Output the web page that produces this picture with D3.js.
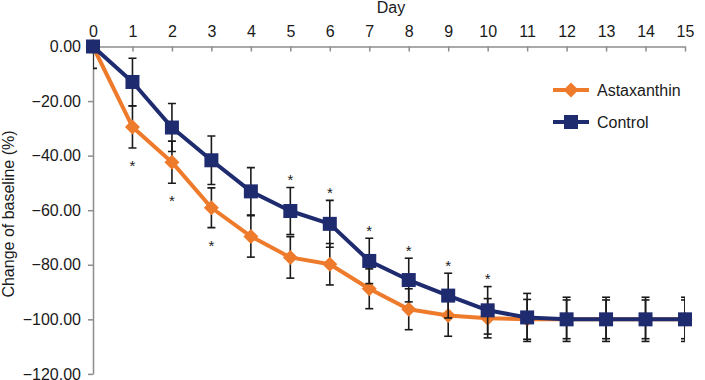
<!DOCTYPE html>
<html>
<head>
<meta charset="utf-8">
<script src="https://cdn.jsdelivr.net/npm/d3@7"></script>
<style>
  html, body { margin: 0; padding: 0; background: #fff; }
  svg { display: block; font-family: "Liberation Sans", Arial, sans-serif; }
</style>
</head>
<body>
<svg id="chart" width="705" height="380"></svg>
<script>
const days = [0, 1, 2, 3, 4, 5, 6, 7, 8, 9, 10, 11, 12, 13, 14, 15];
const astaxanthin = [0, -29.5, -42.4, -59.1, -69.6, -77.3, -79.8, -88.8, -96.3, -98.6, -99.6, -100, -100, -100, -100, -100];
const astaxanthinErr = [8.0, 7.7, 7.7, 7.3, 7.6, 7.6, 7.6, 7.3, 7.5, 7.6, 7.2, 7.3, 7.1, 7.1, 7.1, 7.1];
const control = [0, -13.0, -29.7, -41.7, -53.1, -60.3, -65.0, -78.6, -85.6, -91.3, -96.7, -99.3, -100, -100, -100, -100];
const controlErr = [0, 8.7, 8.8, 8.9, 8.7, 8.6, 8.6, 8.3, 8.0, 8.2, 8.7, 8.8, 8.1, 8.1, 8.1, 8.1];
const sigBelow = [1, 2, 3];            // asterisk under Astaxanthin bars
const sigAbove = [5, 6, 7, 8, 9, 10];  // asterisk over Control bars
const yTicks = [0, -20, -40, -60, -80, -100, -120];
const seriesNames = ["Astaxanthin", "Control"];
const xTitle = "Day";
const yTitle = "Change of baseline (%)";

const orange = "#EE7B2C";
const navy = "#1F2B6F";
const axisGrey = "#8c8c8c";

const svg = d3.select("#chart");
const x = d3.scaleLinear().domain([0, 15]).range([93, 685]);
const y = d3.scaleLinear().domain([-120, 0]).range([373.9, 46.5]);

// Axes
const xAxis = d3.axisTop(x).tickValues(days).tickFormat(d3.format("d"))
  .tickSizeInner(-5).tickSizeOuter(0).tickPadding(10);
const gx = svg.append("g").attr("transform", `translate(0,${y(0)})`).call(xAxis);
const yAxis = d3.axisLeft(y).tickValues(yTicks).tickFormat(d3.format(".2f"))
  .tickSizeInner(5).tickSizeOuter(0).tickPadding(7);
const gy = svg.append("g").attr("transform", `translate(${x(0)},0)`).call(yAxis);
[gx, gy].forEach(g => {
  g.select(".domain").attr("stroke", axisGrey).attr("stroke-width", 1.5);
  g.selectAll(".tick line").attr("stroke", axisGrey).attr("stroke-width", 1.5);
  g.selectAll(".tick text").attr("fill", "#1a1a1a").attr("font-size", 16)
    .attr("font-family", "Liberation Sans, Arial, sans-serif");
});

svg.append("text").attr("x", 391).attr("y", 13).attr("text-anchor", "middle")
  .attr("font-size", 16).attr("fill", "#1a1a1a").text(xTitle);
svg.append("text").attr("transform", `translate(14,214) rotate(-90)`)
  .attr("text-anchor", "middle").attr("font-size", 16).attr("fill", "#1a1a1a").text(yTitle);

// Clip for error bars (plot area)
svg.append("clipPath").attr("id", "plotclip").append("rect")
  .attr("x", x(0)).attr("y", y(0)).attr("width", x(15) - x(0)).attr("height", y(-120) - y(0));

function drawErr(vals, errs) {
  const g = svg.append("g").attr("clip-path", "url(#plotclip)")
    .attr("stroke", "#1a1a1a").attr("stroke-width", 1.6).attr("fill", "none");
  days.forEach((d, i) => {
    if (!errs[i]) return;
    const cx = x(d), y1 = y(vals[i] + errs[i]), y2 = y(vals[i] - errs[i]);
    g.append("line").attr("x1", cx).attr("x2", cx).attr("y1", y1).attr("y2", y2);
    g.append("line").attr("x1", cx - 4).attr("x2", cx + 4).attr("y1", y1).attr("y2", y1);
    g.append("line").attr("x1", cx - 4).attr("x2", cx + 4).attr("y1", y2).attr("y2", y2);
  });
}

const line = d3.line().x((d, i) => x(days[i])).y(d => y(d));
const diamond = (cx, cy, r) => `M${cx},${cy - r}L${cx + r},${cy}L${cx},${cy + r}L${cx - r},${cy}Z`;
const sq = 14;

// Astaxanthin
drawErr(astaxanthin, astaxanthinErr);
svg.append("path").datum(astaxanthin).attr("d", line)
  .attr("fill", "none").attr("stroke", orange).attr("stroke-width", 4).attr("stroke-linejoin", "round");
svg.append("g").selectAll("path").data(astaxanthin).join("path")
  .attr("d", (d, i) => diamond(x(days[i]), y(d), 7.5)).attr("fill", orange);

// Control
drawErr(control, controlErr);
svg.append("path").datum(control).attr("d", line)
  .attr("fill", "none").attr("stroke", navy).attr("stroke-width", 4).attr("stroke-linejoin", "round");
svg.append("g").selectAll("rect").data(control).join("rect")
  .attr("x", (d, i) => x(days[i]) - sq / 2).attr("y", d => y(d) - sq / 2)
  .attr("width", sq).attr("height", sq).attr("fill", navy);

// Significance asterisks
sigBelow.forEach(d => {
  svg.append("text").attr("x", x(d)).attr("y", y(astaxanthin[d] - astaxanthinErr[d]) + 14 + 9)
    .attr("text-anchor", "middle").attr("font-size", 15).attr("fill", "#1a1a1a").text("*");
});
sigAbove.forEach(d => {
  svg.append("text").attr("x", x(d)).attr("y", y(control[d] + controlErr[d]) - 11.5 + 9)
    .attr("text-anchor", "middle").attr("font-size", 15).attr("fill", "#1a1a1a").text("*");
});

// Legend
const legend = svg.append("g");
const legY = [90, 122];
legend.append("line").attr("x1", 553).attr("x2", 589).attr("y1", legY[0]).attr("y2", legY[0])
  .attr("stroke", orange).attr("stroke-width", 4);
legend.append("path").attr("d", diamond(571, legY[0], 7.5)).attr("fill", orange);
legend.append("line").attr("x1", 553).attr("x2", 589).attr("y1", legY[1]).attr("y2", legY[1])
  .attr("stroke", navy).attr("stroke-width", 4);
legend.append("rect").attr("x", 571 - sq / 2).attr("y", legY[1] - sq / 2).attr("width", sq).attr("height", sq).attr("fill", navy);
seriesNames.forEach((n, i) => {
  legend.append("text").attr("x", 597).attr("y", legY[i] + 6).attr("font-size", 16)
    .attr("fill", "#1a1a1a").text(n);
});
</script>
</body>
</html>
